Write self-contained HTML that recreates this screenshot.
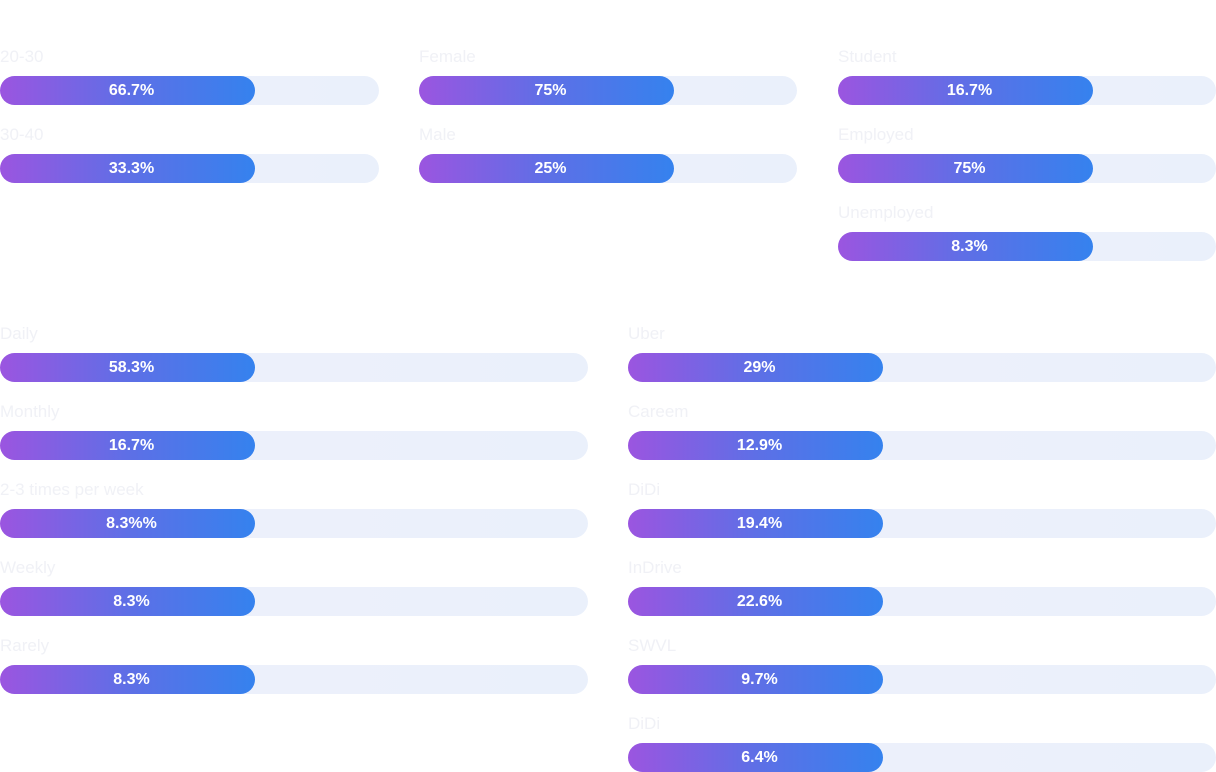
<!DOCTYPE html>
<html><head><style>
body{margin:0;width:1216px;height:772px;background:#fff;position:relative;overflow:hidden;font-family:"Liberation Sans",sans-serif}
.l{position:absolute;color:#f0f1f6;font-size:17px;line-height:20px}
.t{position:absolute;height:29px;border-radius:15px;background:linear-gradient(90deg,#eef0fb,#eaf0fb)}
.f{position:absolute;left:0;top:0;height:29px;width:247px;padding-left:8px;border-radius:15px;background:linear-gradient(90deg,#9b55e0,#5e6fe6 50%,#3582ee);color:#fff;font-weight:bold;font-size:16px;line-height:29px;text-align:center}
</style></head><body>
<div class="l" style="left:0;top:47px">20-30</div><div class="t" style="left:0;top:76px;width:379px"><div class="f">66.7%</div></div>
<div class="l" style="left:0;top:125px">30-40</div><div class="t" style="left:0;top:154px;width:379px"><div class="f">33.3%</div></div>
<div class="l" style="left:419px;top:47px">Female</div><div class="t" style="left:419px;top:76px;width:378px"><div class="f">75%</div></div>
<div class="l" style="left:419px;top:125px">Male</div><div class="t" style="left:419px;top:154px;width:378px"><div class="f">25%</div></div>
<div class="l" style="left:838px;top:47px">Student</div><div class="t" style="left:838px;top:76px;width:378px"><div class="f">16.7%</div></div>
<div class="l" style="left:838px;top:125px">Employed</div><div class="t" style="left:838px;top:154px;width:378px"><div class="f">75%</div></div>
<div class="l" style="left:838px;top:203px">Unemployed</div><div class="t" style="left:838px;top:232px;width:378px"><div class="f">8.3%</div></div>

<div class="l" style="left:0;top:324px">Daily</div><div class="t" style="left:0;top:353px;width:588px"><div class="f">58.3%</div></div>
<div class="l" style="left:0;top:402px">Monthly</div><div class="t" style="left:0;top:431px;width:588px"><div class="f">16.7%</div></div>
<div class="l" style="left:0;top:480px">2-3 times per week</div><div class="t" style="left:0;top:509px;width:588px"><div class="f">8.3%%</div></div>
<div class="l" style="left:0;top:558px">Weekly</div><div class="t" style="left:0;top:587px;width:588px"><div class="f">8.3%</div></div>
<div class="l" style="left:0;top:636px">Rarely</div><div class="t" style="left:0;top:665px;width:588px"><div class="f">8.3%</div></div>

<div class="l" style="left:628px;top:324px">Uber</div><div class="t" style="left:628px;top:353px;width:588px"><div class="f">29%</div></div>
<div class="l" style="left:628px;top:402px">Careem</div><div class="t" style="left:628px;top:431px;width:588px"><div class="f">12.9%</div></div>
<div class="l" style="left:628px;top:480px">DiDi</div><div class="t" style="left:628px;top:509px;width:588px"><div class="f">19.4%</div></div>
<div class="l" style="left:628px;top:558px">InDrive</div><div class="t" style="left:628px;top:587px;width:588px"><div class="f">22.6%</div></div>
<div class="l" style="left:628px;top:636px">SWVL</div><div class="t" style="left:628px;top:665px;width:588px"><div class="f">9.7%</div></div>
<div class="l" style="left:628px;top:714px">DiDi</div><div class="t" style="left:628px;top:743px;width:588px"><div class="f">6.4%</div></div>
</body></html>
